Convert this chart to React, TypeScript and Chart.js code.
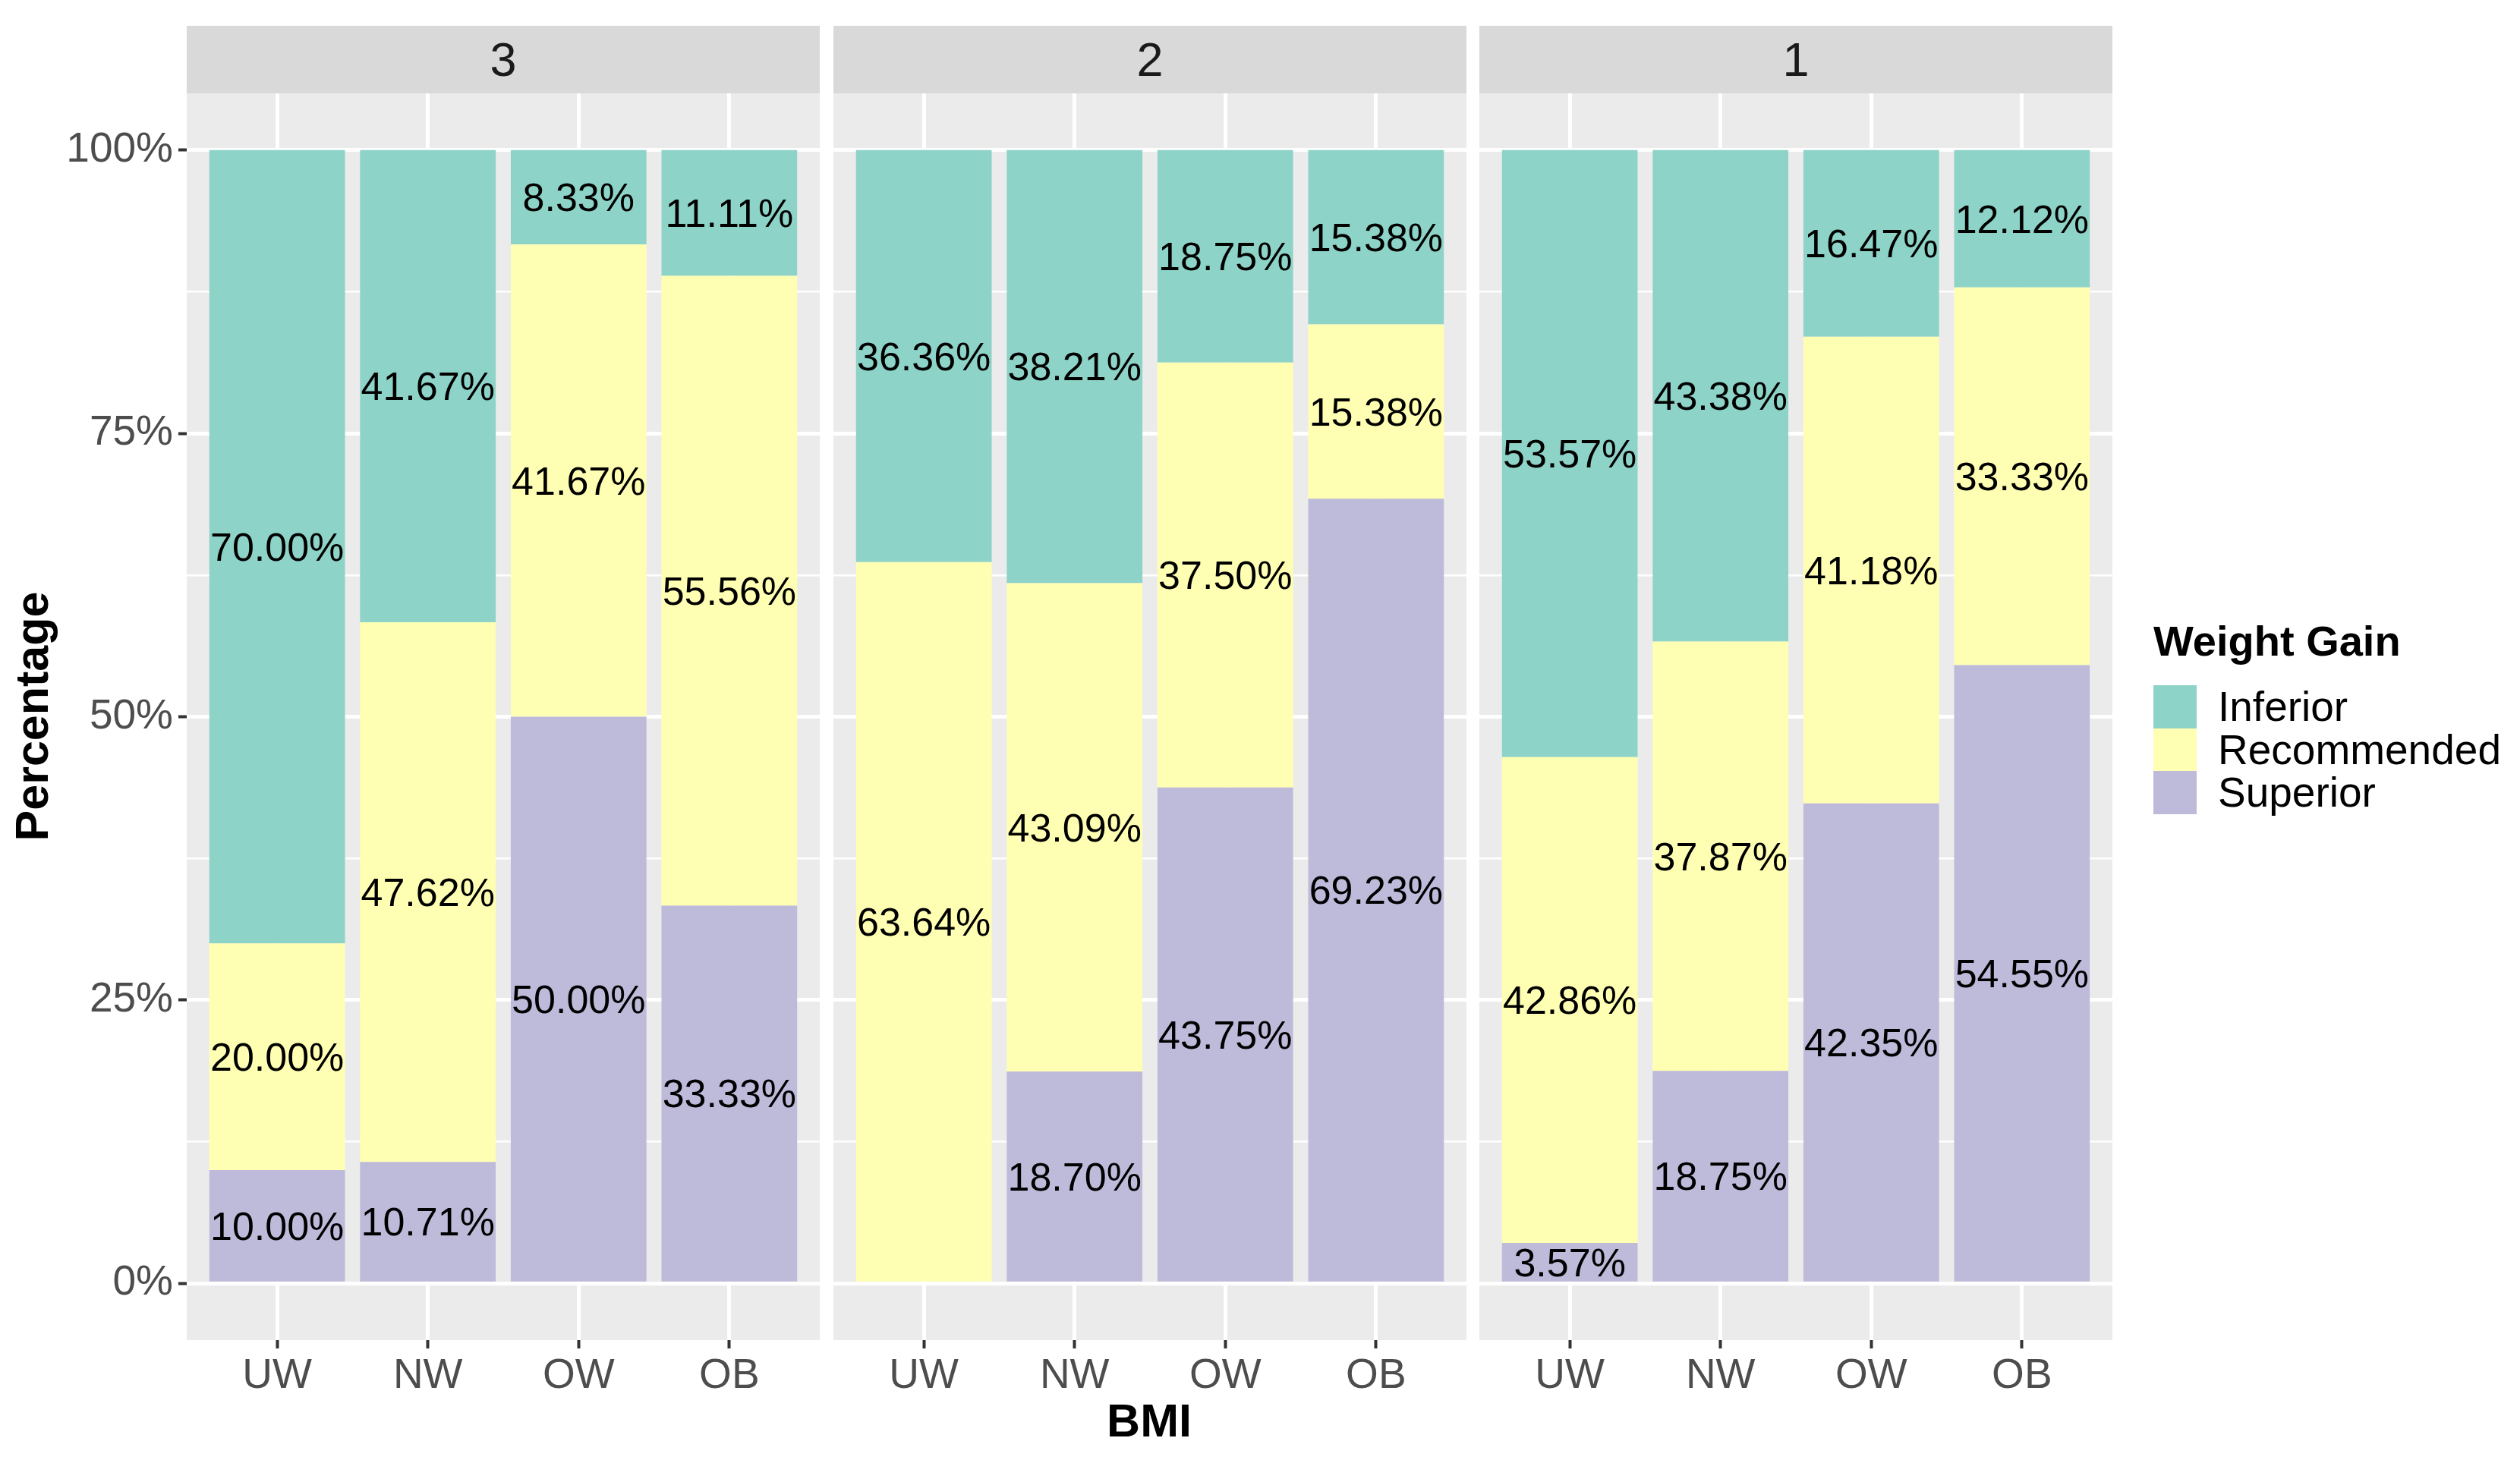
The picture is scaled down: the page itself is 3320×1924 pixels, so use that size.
import React, { useEffect, useRef } from "react";
import { Chart, registerables } from "chart.js";

Chart.register(...registerables);

// ---------- data ----------
const FACETS = ["3", "2", "1"];
const CATEGORIES = ["UW", "NW", "OW", "OB"];
const SERIES = ["Inferior", "Recommended", "Superior"];

const SUPERIOR_3 = [10.0, 10.71, 50.0, 33.33];
const RECOMMENDED_3 = [20.0, 47.62, 41.67, 55.56];
const INFERIOR_3 = [70.0, 41.67, 8.33, 11.11];

const SUPERIOR_2 = [0, 18.7, 43.75, 69.23];
const RECOMMENDED_2 = [63.64, 43.09, 37.5, 15.38];
const INFERIOR_2 = [36.36, 38.21, 18.75, 15.38];

const SUPERIOR_1 = [3.57, 18.75, 42.35, 54.55];
const RECOMMENDED_1 = [42.86, 37.87, 41.18, 33.33];
const INFERIOR_1 = [53.57, 43.38, 16.47, 12.12];

const Y_TICKS = [0, 25, 50, 75, 100];
const Y_TICK_LABELS = ["0%", "25%", "50%", "75%", "100%"];
const Y_MINOR_TICKS = [12.5, 37.5, 62.5, 87.5];

const FACET_DATA = [
  { superior: SUPERIOR_3, recommended: RECOMMENDED_3, inferior: INFERIOR_3 },
  { superior: SUPERIOR_2, recommended: RECOMMENDED_2, inferior: INFERIOR_2 },
  { superior: SUPERIOR_1, recommended: RECOMMENDED_1, inferior: INFERIOR_1 },
];

const COLORS: Record<string, string> = {
  Inferior: "#8DD3C7",
  Recommended: "#FFFFB3",
  Superior: "#BEBADA",
};

// ---------- layout ----------
const FONT = "'Liberation Sans', Arial, Helvetica, sans-serif";
const STRIP_TOP = 34;
const PANEL_TOP = 123;
const PANEL_BOTTOM = 1766;
const PANEL_LEFTS = [246, 1098, 1949];
const PANEL_W = 834;
const X_AXIS_H = 110;

const panelBg = {
  id: "panelBg",
  beforeDraw(chart: any) {
    const { ctx, chartArea } = chart;
    ctx.save();
    ctx.fillStyle = "#EBEBEB";
    ctx.fillRect(chartArea.left, chartArea.top, chartArea.width, chartArea.height);
    ctx.restore();
  },
};

const barLabels = {
  id: "barLabels",
  afterDatasetsDraw(chart: any) {
    const { ctx } = chart;
    ctx.save();
    ctx.font = `52px ${FONT}`;
    ctx.fillStyle = "#000000";
    ctx.textAlign = "center";
    ctx.textBaseline = "middle";
    chart.data.datasets.forEach((ds: any, di: number) => {
      const meta = chart.getDatasetMeta(di);
      meta.data.forEach((el: any, i: number) => {
        const v = ds.data[i].y;
        if (!v) return;
        const p = el.getProps(["x", "y", "base"], true);
        ctx.fillText(v.toFixed(2) + "%", p.x, (p.y + p.base) / 2 + 4);
      });
    });
    ctx.restore();
  },
};

function Panel({ index }: { index: number }) {
  const ref = useRef<HTMLCanvasElement>(null);
  const showY = index === 0;
  const left = showY ? 0 : PANEL_LEFTS[index];
  const yAxisW = showY ? PANEL_LEFTS[0] : 0;
  const width = yAxisW + PANEL_W;
  const height = PANEL_BOTTOM - PANEL_TOP + X_AXIS_H;

  useEffect(() => {
    if (!ref.current) return;
    const d = FACET_DATA[index];
    const mk = (name: string, vals: number[]) => ({
      label: name,
      data: vals.map((v, i) => ({ x: i + 1, y: v })),
      backgroundColor: COLORS[name],
      borderWidth: 0,
      categoryPercentage: 1,
      barPercentage: 0.9,
    });
    const chart = new Chart(ref.current, {
      type: "bar",
      data: {
        datasets: [
          mk("Superior", d.superior),
          mk("Recommended", d.recommended),
          mk("Inferior", d.inferior),
        ],
      } as any,
      options: {
        animation: false,
        responsive: false,
        devicePixelRatio: 1,
        layout: { padding: 0, autoPadding: false } as any,
        plugins: {
          legend: { display: false },
          tooltip: { enabled: false },
          title: { display: false },
        },
        scales: {
          x: {
            type: "linear",
            min: 0.4,
            max: 4.6,
            stacked: true,
            offset: false,
            afterBuildTicks: (s: any) => {
              s.ticks = CATEGORIES.map((_, i) => ({ value: i + 1 }));
            },
            afterFit: (s: any) => {
              s.height = X_AXIS_H;
              s.paddingLeft = 0;
              s.paddingRight = 0;
            },
            ticks: {
              autoSkip: false,
              maxRotation: 0,
              minRotation: 0,
              padding: 4,
              color: "#4D4D4D",
              font: { family: FONT, size: 55 },
              callback: (v: any) => CATEGORIES[Math.round(v) - 1] ?? "",
            },
            grid: {
              offset: false,
              color: "#FFFFFF",
              lineWidth: 5,
              drawTicks: true,
              tickLength: 11,
              tickColor: "#333333",
              tickWidth: 4,
            },
            border: { display: false },
          },
          y: {
            type: "linear",
            min: -5,
            max: 105,
            stacked: true,
            afterBuildTicks: (s: any) => {
              s.ticks = [...Y_TICKS, ...Y_MINOR_TICKS]
                .sort((a, b) => a - b)
                .map((v) => ({ value: v }));
            },
            afterFit: (s: any) => {
              s.width = yAxisW;
              s.paddingTop = 0;
              s.paddingBottom = 0;
            },
            ticks: {
              display: showY,
              autoSkip: false,
              padding: 7,
              color: "#4D4D4D",
              font: { family: FONT, size: 55 },
              callback: (v: any) => {
                const k = Y_TICKS.indexOf(Number(v));
                return k >= 0 ? Y_TICK_LABELS[k] : "";
              },
            },
            grid: {
              offset: false,
              color: "#FFFFFF",
              lineWidth: (c: any) => (Y_TICKS.includes(c.tick?.value) ? 5 : 2.5),
              drawTicks: showY,
              tickLength: 11,
              tickWidth: 4,
              tickColor: (c: any) =>
                Y_TICKS.includes(c.tick?.value) ? "#333333" : "rgba(0,0,0,0)",
            },
            border: { display: false },
          },
        } as any,
      },
      plugins: [panelBg, barLabels],
    });
    return () => chart.destroy();
  }, [index]);

  return (
    <>
      <div
        style={{
          position: "absolute",
          left: PANEL_LEFTS[index],
          top: STRIP_TOP,
          width: PANEL_W,
          height: PANEL_TOP - STRIP_TOP,
          background: "#D9D9D9",
          color: "#1A1A1A",
          fontFamily: FONT,
          fontSize: 63,
          lineHeight: `${PANEL_TOP - STRIP_TOP}px`,
          textAlign: "center",
        }}
      >
        {FACETS[index]}
      </div>
      <canvas
        ref={ref}
        width={width}
        height={height}
        style={{ position: "absolute", left, top: PANEL_TOP, width, height }}
      />
    </>
  );
}

export default function App() {
  return (
    <div
      style={{
        position: "absolute",
        left: 0,
        top: 0,
        width: 3320,
        height: 1924,
        background: "#FFFFFF",
        overflow: "hidden",
        fontFamily: FONT,
      }}
    >
      {FACETS.map((_, i) => (
        <Panel key={i} index={i} />
      ))}
      <div
        style={{
          position: "absolute",
          left: 42 - 400,
          top: 944 - 40,
          width: 800,
          height: 80,
          lineHeight: "80px",
          textAlign: "center",
          transform: "rotate(-90deg)",
          fontWeight: "bold",
          fontSize: 61,
          color: "#000",
        }}
      >
        Percentage
      </div>
      <div
        style={{
          position: "absolute",
          left: 1514 - 300,
          top: 1872 - 40,
          width: 600,
          height: 80,
          lineHeight: "80px",
          textAlign: "center",
          fontWeight: "bold",
          fontSize: 61,
          color: "#000",
        }}
      >
        BMI
      </div>
      <div style={{ position: "absolute", left: 2837, top: 845 - 35, height: 70, lineHeight: "70px", fontWeight: "bold", fontSize: 56, color: "#000", whiteSpace: "nowrap" }}>
        Weight Gain
      </div>
      {SERIES.map((s, i) => (
        <React.Fragment key={s}>
          <div
            style={{
              position: "absolute",
              left: 2837,
              top: 903 + i * 56.5,
              width: 57,
              height: 56.5,
              background: COLORS[s],
            }}
          />
          <div
            style={{
              position: "absolute",
              left: 2922,
              top: 903 + i * 56.5 - 10,
              height: 76,
              lineHeight: "76px",
              fontSize: 55,
              color: "#000",
              whiteSpace: "nowrap",
            }}
          >
            {s}
          </div>
        </React.Fragment>
      ))}
    </div>
  );
}
